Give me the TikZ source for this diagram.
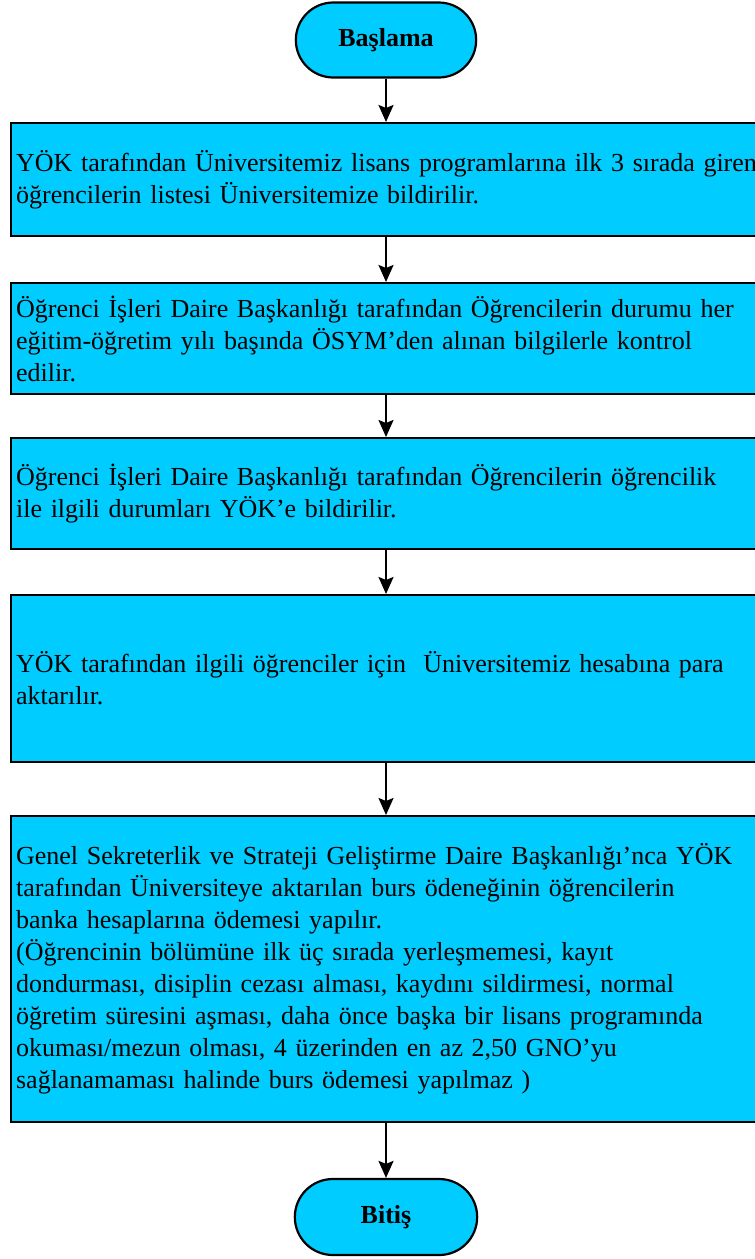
\documentclass[tikz,border=0pt]{standalone}
\usepackage{fontspec}
\setmainfont{Liberation Serif}
\newfontfamily\boxfont[WordSpace=0.85]{Liberation Serif}
\usetikzlibrary{shapes.misc,arrows.meta}
\definecolor{boxcyan}{RGB}{0,204,255}
\tikzset{
  procbox/.style={draw=black, line width=2.2pt, fill=boxcyan, rectangle, anchor=north west,
    minimum width=800pt, inner xsep=2pt, align=left, text width=790pt,
    font=\boxfont\fontsize{26}{32}\selectfont},
  termbox/.style={draw=black, line width=2.2pt, fill=boxcyan, rounded rectangle,
    rounded rectangle arc length=180, font=\fontsize{26}{32}\selectfont\bfseries},
  flow/.style={line width=2pt, -{Stealth[length=17pt,width=15pt,inset=3pt]}}
}
\begin{document}
\begin{tikzpicture}[x=1pt,y=1pt]
\useasboundingbox (0,0) rectangle (755,-1259);
\node[termbox, minimum width=187pt, minimum height=75pt] (start) at (386,-40) {Başlama};
\node[procbox, minimum height=113pt] (b1) at (10,-122) {YÖK tarafından Üniversitemiz lisans programlarına ilk 3 sırada giren\\öğrencilerin listesi Üniversitemize bildirilir.};
\node[procbox, minimum height=111pt] (b2) at (10,-282) {Öğrenci İşleri Daire Başkanlığı tarafından Öğrencilerin durumu her\\eğitim-öğretim yılı başında ÖSYM’den alınan bilgilerle kontrol\\edilir.};
\node[procbox, minimum height=111pt] (b3) at (10,-437) {Öğrenci İşleri Daire Başkanlığı tarafından Öğrencilerin öğrencilik\\ile ilgili durumları YÖK’e bildirilir.};
\node[procbox, minimum height=167pt] (b4) at (10,-594) {YÖK tarafından ilgili öğrenciler için\ \ Üniversitemiz hesabına para\\aktarılır.};
\node[procbox, minimum height=306pt] (b5) at (10,-815) {Genel Sekreterlik ve Strateji Geliştirme Daire Başkanlığı’nca YÖK\\tarafından Üniversiteye aktarılan burs ödeneğinin öğrencilerin\\banka hesaplarına ödemesi yapılır.\\(Öğrencinin bölümüne ilk üç sırada yerleşmemesi, kayıt\\dondurması, disiplin cezası alması, kaydını sildirmesi, normal\\öğretim süresini aşması, daha önce başka bir lisans programında\\okuması/mezun olması, 4 üzerinden en az 2,50 GNO’yu\\sağlanamaması halinde burs ödemesi yapılmaz )};
\node[termbox, minimum width=189pt, minimum height=76pt] (end) at (386,-1217) {Bitiş};
\coordinate (t1) at (386,-122);
\coordinate (t2) at (386,-282);
\coordinate (t3) at (386,-437);
\coordinate (t4) at (386,-594);
\coordinate (t5) at (386,-815);
\coordinate (s1) at (386,-235);
\coordinate (s2) at (386,-393);
\coordinate (s3) at (386,-548);
\coordinate (s4) at (386,-761);
\coordinate (s5) at (386,-1121);
\draw[flow] (start.south) -- (t1);
\draw[flow] (s1) -- (t2);
\draw[flow] (s2) -- (t3);
\draw[flow] (s3) -- (t4);
\draw[flow] (s4) -- (t5);
\draw[flow] (s5) -- (end.north);
\end{tikzpicture}
\end{document}
